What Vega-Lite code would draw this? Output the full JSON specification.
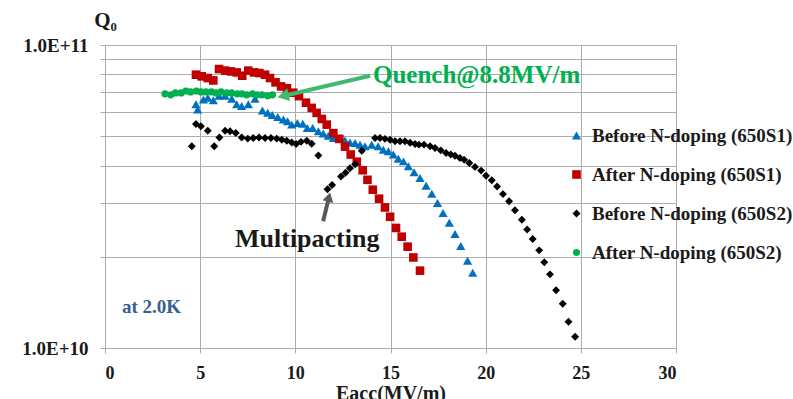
{
 "$schema": "https://vega.github.io/schema/vega-lite/v6.json",
 "width": 571,
 "height": 303,
 "autosize": {"type": "none"},
 "padding": {"left": 105, "top": 45, "right": 117, "bottom": 51},
 "background": "white",
 "config": {"view": {"stroke": null}, "font": "Liberation Serif"},
 "datasets": {
  "pts": [
   {"s":"Before N-doping (650S1)","E":4.78,"Q":6.37e10},{"s":"Before N-doping (650S1)","E":4.87,"Q":6.13e10},{"s":"Before N-doping (650S1)","E":5.17,"Q":6.61e10},{"s":"Before N-doping (650S1)","E":5.40,"Q":6.70e10},{"s":"Before N-doping (650S1)","E":5.69,"Q":6.57e10},{"s":"Before N-doping (650S1)","E":5.99,"Q":6.80e10},{"s":"Before N-doping (650S1)","E":6.31,"Q":6.80e10},{"s":"Before N-doping (650S1)","E":6.66,"Q":6.65e10},{"s":"Before N-doping (650S1)","E":6.92,"Q":6.37e10},{"s":"Before N-doping (650S1)","E":7.18,"Q":6.29e10},{"s":"Before N-doping (650S1)","E":7.53,"Q":6.37e10},{"s":"Before N-doping (650S1)","E":7.88,"Q":6.65e10},{"s":"Before N-doping (650S1)","E":8.27,"Q":6.08e10},{"s":"Before N-doping (650S1)","E":8.55,"Q":5.98e10},{"s":"Before N-doping (650S1)","E":8.79,"Q":5.87e10},{"s":"Before N-doping (650S1)","E":9.08,"Q":5.79e10},{"s":"Before N-doping (650S1)","E":9.37,"Q":5.68e10},{"s":"Before N-doping (650S1)","E":9.59,"Q":5.60e10},{"s":"Before N-doping (650S1)","E":9.81,"Q":5.46e10},{"s":"Before N-doping (650S1)","E":10.11,"Q":5.53e10},{"s":"Before N-doping (650S1)","E":10.39,"Q":5.50e10},{"s":"Before N-doping (650S1)","E":10.63,"Q":5.32e10},{"s":"Before N-doping (650S1)","E":10.91,"Q":5.32e10},{"s":"Before N-doping (650S1)","E":11.21,"Q":5.19e10},{"s":"Before N-doping (650S1)","E":11.47,"Q":5.10e10},{"s":"Before N-doping (650S1)","E":11.73,"Q":5.02e10},{"s":"Before N-doping (650S1)","E":12.00,"Q":4.93e10},{"s":"Before N-doping (650S1)","E":12.35,"Q":4.93e10},{"s":"Before N-doping (650S1)","E":12.61,"Q":4.84e10},{"s":"Before N-doping (650S1)","E":12.87,"Q":4.77e10},{"s":"Before N-doping (650S1)","E":13.14,"Q":4.75e10},{"s":"Before N-doping (650S1)","E":13.40,"Q":4.69e10},{"s":"Before N-doping (650S1)","E":13.66,"Q":4.63e10},{"s":"Before N-doping (650S1)","E":14.01,"Q":4.69e10},{"s":"Before N-doping (650S1)","E":14.35,"Q":4.63e10},{"s":"Before N-doping (650S1)","E":14.62,"Q":4.51e10},{"s":"Before N-doping (650S1)","E":14.89,"Q":4.46e10},{"s":"Before N-doping (650S1)","E":15.15,"Q":4.35e10},{"s":"Before N-doping (650S1)","E":15.41,"Q":4.21e10},{"s":"Before N-doping (650S1)","E":15.68,"Q":4.13e10},{"s":"Before N-doping (650S1)","E":15.94,"Q":3.98e10},{"s":"Before N-doping (650S1)","E":16.24,"Q":3.80e10},{"s":"Before N-doping (650S1)","E":16.55,"Q":3.64e10},{"s":"Before N-doping (650S1)","E":16.87,"Q":3.43e10},{"s":"Before N-doping (650S1)","E":17.17,"Q":3.23e10},{"s":"Before N-doping (650S1)","E":17.47,"Q":3.01e10},{"s":"Before N-doping (650S1)","E":17.76,"Q":2.79e10},{"s":"Before N-doping (650S1)","E":18.09,"Q":2.59e10},{"s":"Before N-doping (650S1)","E":18.39,"Q":2.38e10},{"s":"Before N-doping (650S1)","E":18.69,"Q":2.17e10},{"s":"Before N-doping (650S1)","E":19.05,"Q":1.94e10},{"s":"Before N-doping (650S1)","E":19.32,"Q":1.77e10},
   {"s":"After N-doping (650S1)","E":4.78,"Q":7.98e10},{"s":"After N-doping (650S1)","E":5.08,"Q":7.88e10},{"s":"After N-doping (650S1)","E":5.40,"Q":7.78e10},{"s":"After N-doping (650S1)","E":5.69,"Q":7.64e10},{"s":"After N-doping (650S1)","E":5.99,"Q":8.33e10},{"s":"After N-doping (650S1)","E":6.31,"Q":8.23e10},{"s":"After N-doping (650S1)","E":6.62,"Q":8.18e10},{"s":"After N-doping (650S1)","E":6.92,"Q":8.12e10},{"s":"After N-doping (650S1)","E":7.21,"Q":7.92e10},{"s":"After N-doping (650S1)","E":7.53,"Q":8.23e10},{"s":"After N-doping (650S1)","E":7.83,"Q":8.12e10},{"s":"After N-doping (650S1)","E":8.11,"Q":8.08e10},{"s":"After N-doping (650S1)","E":8.41,"Q":7.98e10},{"s":"After N-doping (650S1)","E":8.67,"Q":7.78e10},{"s":"After N-doping (650S1)","E":8.96,"Q":7.53e10},{"s":"After N-doping (650S1)","E":9.25,"Q":7.30e10},{"s":"After N-doping (650S1)","E":9.56,"Q":7.20e10},{"s":"After N-doping (650S1)","E":9.89,"Q":6.96e10},{"s":"After N-doping (650S1)","E":10.19,"Q":6.78e10},{"s":"After N-doping (650S1)","E":10.56,"Q":6.45e10},{"s":"After N-doping (650S1)","E":10.86,"Q":6.20e10},{"s":"After N-doping (650S1)","E":11.12,"Q":5.97e10},{"s":"After N-doping (650S1)","E":11.39,"Q":5.70e10},{"s":"After N-doping (650S1)","E":11.65,"Q":5.46e10},{"s":"After N-doping (650S1)","E":12.00,"Q":5.12e10},{"s":"After N-doping (650S1)","E":12.31,"Q":4.90e10},{"s":"After N-doping (650S1)","E":12.61,"Q":4.62e10},{"s":"After N-doping (650S1)","E":12.91,"Q":4.35e10},{"s":"After N-doping (650S1)","E":13.23,"Q":4.12e10},{"s":"After N-doping (650S1)","E":13.54,"Q":3.86e10},{"s":"After N-doping (650S1)","E":13.79,"Q":3.59e10},{"s":"After N-doping (650S1)","E":14.07,"Q":3.33e10},{"s":"After N-doping (650S1)","E":14.40,"Q":3.11e10},{"s":"After N-doping (650S1)","E":14.71,"Q":2.91e10},{"s":"After N-doping (650S1)","E":14.98,"Q":2.71e10},{"s":"After N-doping (650S1)","E":15.29,"Q":2.49e10},{"s":"After N-doping (650S1)","E":15.59,"Q":2.33e10},{"s":"After N-doping (650S1)","E":15.90,"Q":2.16e10},{"s":"After N-doping (650S1)","E":16.20,"Q":1.99e10},{"s":"After N-doping (650S1)","E":16.55,"Q":1.80e10},
   {"s":"Before N-doping (650S2)","E":4.56,"Q":4.63e10},{"s":"Before N-doping (650S2)","E":4.78,"Q":5.49e10},{"s":"Before N-doping (650S2)","E":5.04,"Q":5.39e10},{"s":"Before N-doping (650S2)","E":5.40,"Q":5.21e10},{"s":"Before N-doping (650S2)","E":5.74,"Q":4.63e10},{"s":"Before N-doping (650S2)","E":6.01,"Q":4.95e10},{"s":"Before N-doping (650S2)","E":6.31,"Q":5.21e10},{"s":"Before N-doping (650S2)","E":6.57,"Q":5.19e10},{"s":"Before N-doping (650S2)","E":6.87,"Q":5.12e10},{"s":"Before N-doping (650S2)","E":7.18,"Q":4.95e10},{"s":"Before N-doping (650S2)","E":7.50,"Q":4.91e10},{"s":"Before N-doping (650S2)","E":7.79,"Q":4.93e10},{"s":"Before N-doping (650S2)","E":8.09,"Q":4.95e10},{"s":"Before N-doping (650S2)","E":8.41,"Q":4.93e10},{"s":"Before N-doping (650S2)","E":8.72,"Q":4.93e10},{"s":"Before N-doping (650S2)","E":9.02,"Q":4.91e10},{"s":"Before N-doping (650S2)","E":9.29,"Q":4.87e10},{"s":"Before N-doping (650S2)","E":9.55,"Q":4.83e10},{"s":"Before N-doping (650S2)","E":9.81,"Q":4.77e10},{"s":"Before N-doping (650S2)","E":10.04,"Q":4.71e10},{"s":"Before N-doping (650S2)","E":10.30,"Q":4.79e10},{"s":"Before N-doping (650S2)","E":10.60,"Q":4.83e10},{"s":"Before N-doping (650S2)","E":10.86,"Q":4.72e10},{"s":"Before N-doping (650S2)","E":11.21,"Q":4.32e10},{"s":"Before N-doping (650S2)","E":11.69,"Q":3.34e10},{"s":"Before N-doping (650S2)","E":11.93,"Q":3.45e10},{"s":"Before N-doping (650S2)","E":12.40,"Q":3.68e10},{"s":"Before N-doping (650S2)","E":12.64,"Q":3.79e10},{"s":"Before N-doping (650S2)","E":12.87,"Q":3.92e10},{"s":"Before N-doping (650S2)","E":13.14,"Q":4.04e10},{"s":"Before N-doping (650S2)","E":13.49,"Q":4.48e10},{"s":"Before N-doping (650S2)","E":14.19,"Q":4.93e10},{"s":"Before N-doping (650S2)","E":14.45,"Q":4.93e10},{"s":"Before N-doping (650S2)","E":14.71,"Q":4.90e10},{"s":"Before N-doping (650S2)","E":14.98,"Q":4.87e10},{"s":"Before N-doping (650S2)","E":15.24,"Q":4.81e10},{"s":"Before N-doping (650S2)","E":15.50,"Q":4.81e10},{"s":"Before N-doping (650S2)","E":15.76,"Q":4.81e10},{"s":"Before N-doping (650S2)","E":16.03,"Q":4.76e10},{"s":"Before N-doping (650S2)","E":16.29,"Q":4.71e10},{"s":"Before N-doping (650S2)","E":16.50,"Q":4.69e10},{"s":"Before N-doping (650S2)","E":16.76,"Q":4.69e10},{"s":"Before N-doping (650S2)","E":17.08,"Q":4.63e10},{"s":"Before N-doping (650S2)","E":17.34,"Q":4.57e10},{"s":"Before N-doping (650S2)","E":17.64,"Q":4.49e10},{"s":"Before N-doping (650S2)","E":17.92,"Q":4.40e10},{"s":"Before N-doping (650S2)","E":18.17,"Q":4.35e10},{"s":"Before N-doping (650S2)","E":18.39,"Q":4.31e10},{"s":"Before N-doping (650S2)","E":18.65,"Q":4.24e10},{"s":"Before N-doping (650S2)","E":18.87,"Q":4.18e10},{"s":"Before N-doping (650S2)","E":19.14,"Q":4.08e10},{"s":"Before N-doping (650S2)","E":19.44,"Q":3.96e10},{"s":"Before N-doping (650S2)","E":19.76,"Q":3.85e10},{"s":"Before N-doping (650S2)","E":20.02,"Q":3.70e10},{"s":"Before N-doping (650S2)","E":20.32,"Q":3.58e10},{"s":"Before N-doping (650S2)","E":20.60,"Q":3.41e10},{"s":"Before N-doping (650S2)","E":20.91,"Q":3.22e10},{"s":"Before N-doping (650S2)","E":21.23,"Q":3.05e10},{"s":"Before N-doping (650S2)","E":21.54,"Q":2.85e10},{"s":"Before N-doping (650S2)","E":21.90,"Q":2.65e10},{"s":"Before N-doping (650S2)","E":22.18,"Q":2.46e10},{"s":"Before N-doping (650S2)","E":22.47,"Q":2.29e10},{"s":"Before N-doping (650S2)","E":22.81,"Q":2.10e10},{"s":"Before N-doping (650S2)","E":23.08,"Q":1.92e10},{"s":"Before N-doping (650S2)","E":23.38,"Q":1.75e10},{"s":"Before N-doping (650S2)","E":23.70,"Q":1.55e10},{"s":"Before N-doping (650S2)","E":24.05,"Q":1.40e10},{"s":"Before N-doping (650S2)","E":24.35,"Q":1.22e10},{"s":"Before N-doping (650S2)","E":24.70,"Q":1.09e10},
   {"s":"After N-doping (650S2)","E":3.15,"Q":6.90e10},{"s":"After N-doping (650S2)","E":3.45,"Q":6.85e10},{"s":"After N-doping (650S2)","E":3.70,"Q":6.95e10},{"s":"After N-doping (650S2)","E":4.00,"Q":6.95e10},{"s":"After N-doping (650S2)","E":4.25,"Q":7.05e10},{"s":"After N-doping (650S2)","E":4.50,"Q":7.00e10},{"s":"After N-doping (650S2)","E":4.80,"Q":7.05e10},{"s":"After N-doping (650S2)","E":5.05,"Q":7.00e10},{"s":"After N-doping (650S2)","E":5.30,"Q":7.00e10},{"s":"After N-doping (650S2)","E":5.60,"Q":7.00e10},{"s":"After N-doping (650S2)","E":5.85,"Q":6.95e10},{"s":"After N-doping (650S2)","E":6.10,"Q":7.00e10},{"s":"After N-doping (650S2)","E":6.40,"Q":6.95e10},{"s":"After N-doping (650S2)","E":6.65,"Q":6.95e10},{"s":"After N-doping (650S2)","E":6.95,"Q":6.90e10},{"s":"After N-doping (650S2)","E":7.20,"Q":6.90e10},{"s":"After N-doping (650S2)","E":7.45,"Q":6.85e10},{"s":"After N-doping (650S2)","E":7.75,"Q":6.90e10},{"s":"After N-doping (650S2)","E":8.00,"Q":6.85e10},{"s":"After N-doping (650S2)","E":8.25,"Q":6.85e10},{"s":"After N-doping (650S2)","E":8.55,"Q":6.80e10},{"s":"After N-doping (650S2)","E":8.80,"Q":6.85e10}
  ]
 },
 "layer": [
  {
   "data": {"name": "pts"},
   "mark": {"type": "point", "filled": true, "opacity": 1},
   "encoding": {
    "x": {"field": "E", "type": "quantitative",
     "scale": {"domain": [0, 30], "nice": false, "zero": false},
     "axis": {"title": "Eacc(MV/m)", "values": [0, 5, 10, 15, 20, 25, 30], "grid": true,
      "gridColor": "#acacac", "domainColor": "#acacac", "tickColor": "#acacac", "tickSize": 5,
      "labelFont": "Liberation Serif", "labelFontWeight": "bold", "labelFontSize": 18, "labelColor": "#1a1a1a", "labelPadding": 11,
      "titleFont": "Liberation Serif", "titleFontWeight": "bold", "titleFontSize": 20, "titleColor": "#1a1a1a", "titlePadding": 1}},
    "y": {"field": "Q", "type": "quantitative",
     "scale": {"type": "log", "domain": [1e10, 1e11], "nice": false},
     "axis": {"title": "Q₀", "values": [1e10, 2e10, 3e10, 4e10, 5e10, 6e10, 7e10, 8e10, 9e10, 1e11],
      "labelExpr": "datum.value < 1.5e10 ? '1.0E+10' : (datum.value > 9.5e10 ? '1.0E+11' : '')",
      "grid": true, "gridColor": "#acacac", "domainColor": "#acacac", "tickColor": "#acacac", "tickSize": 5,
      "labelFont": "Liberation Serif", "labelFontWeight": "bold", "labelFontSize": 19, "labelColor": "#1a1a1a", "labelPadding": 12,
      "titleFont": "Liberation Serif", "titleFontWeight": "bold", "titleFontSize": 21, "titleColor": "#1a1a1a",
      "titleAngle": 0, "titleAlign": "center", "titleBaseline": "alphabetic", "titleX": 0, "titleY": -19}},
    "color": {"field": "s", "type": "nominal",
     "scale": {"domain": ["Before N-doping (650S1)", "After N-doping (650S1)", "Before N-doping (650S2)", "After N-doping (650S2)"],
      "range": ["#0070C0", "#C00000", "#000000", "#00B050"]},
     "legend": {"title": null, "orient": "none", "legendX": 462, "legendY": 81,
      "labelFont": "Liberation Serif", "labelFontWeight": "bold", "labelFontSize": 19, "labelColor": "#1a1a1a",
      "labelLimit": 400, "rowPadding": 19, "symbolStrokeWidth": 0, "labelOffset": 6}},
    "shape": {"field": "s", "type": "nominal",
     "scale": {"domain": ["Before N-doping (650S1)", "After N-doping (650S1)", "Before N-doping (650S2)", "After N-doping (650S2)"],
      "range": ["triangle-up", "square", "diamond", "circle"]}},
    "size": {"field": "s", "type": "nominal",
     "scale": {"domain": ["Before N-doping (650S1)", "After N-doping (650S1)", "Before N-doping (650S2)", "After N-doping (650S2)"],
      "range": [85, 52, 70, 50]}}
   }
  },
  {
   "data": {"values": [{"E": 13.93, "Q": 7.92e10, "E2": 9.36, "Q2": 6.79e10}]},
   "mark": {"type": "rule", "color": "#3dbb6e", "strokeWidth": 4},
   "encoding": {"x": {"field": "E", "type": "quantitative"}, "y": {"field": "Q", "type": "quantitative"}, "x2": {"field": "E2"}, "y2": {"field": "Q2"}}
  },
  {
   "data": {"values": [{"E": 9.36, "Q": 6.79e10}]},
   "mark": {"type": "point", "shape": "triangle-up", "filled": true, "opacity": 1, "color": "#3dbb6e", "size": 170, "angle": 257},
   "encoding": {"x": {"field": "E", "type": "quantitative"}, "y": {"field": "Q", "type": "quantitative"}}
  },
  {
   "data": {"values": [{"E": 11.46, "Q": 2.62e10, "E2": 11.77, "Q2": 3.15e10}]},
   "mark": {"type": "rule", "color": "#595959", "strokeWidth": 4},
   "encoding": {"x": {"field": "E", "type": "quantitative"}, "y": {"field": "Q", "type": "quantitative"}, "x2": {"field": "E2"}, "y2": {"field": "Q2"}}
  },
  {
   "data": {"values": [{"E": 11.77, "Q": 3.15e10}]},
   "mark": {"type": "point", "shape": "triangle-up", "filled": true, "opacity": 1, "color": "#595959", "size": 120, "angle": 14},
   "encoding": {"x": {"field": "E", "type": "quantitative"}, "y": {"field": "Q", "type": "quantitative"}}
  },
  {
   "data": {"values": [{"E": 14.08, "Q": 7.98e10, "t": "Quench@8.8MV/m"}]},
   "mark": {"type": "text", "align": "left", "baseline": "middle", "font": "Liberation Serif", "fontWeight": "bold", "fontSize": 25, "color": "#00B050"},
   "encoding": {"x": {"field": "E", "type": "quantitative"}, "y": {"field": "Q", "type": "quantitative"}, "text": {"field": "t"}}
  },
  {
   "data": {"values": [{"E": 6.83, "Q": 2.16e10, "t": "Multipacting"}]},
   "mark": {"type": "text", "align": "left", "baseline": "alphabetic", "font": "Liberation Serif", "fontWeight": "bold", "fontSize": 26, "color": "#1a1a1a"},
   "encoding": {"x": {"field": "E", "type": "quantitative"}, "y": {"field": "Q", "type": "quantitative"}, "text": {"field": "t"}}
  },
  {
   "data": {"values": [{"E": 0.89, "Q": 1.369e10, "t": "at 2.0K"}]},
   "mark": {"type": "text", "align": "left", "baseline": "middle", "font": "Liberation Serif", "fontWeight": "bold", "fontSize": 19, "color": "#376092"},
   "encoding": {"x": {"field": "E", "type": "quantitative"}, "y": {"field": "Q", "type": "quantitative"}, "text": {"field": "t"}}
  }
 ]
}
